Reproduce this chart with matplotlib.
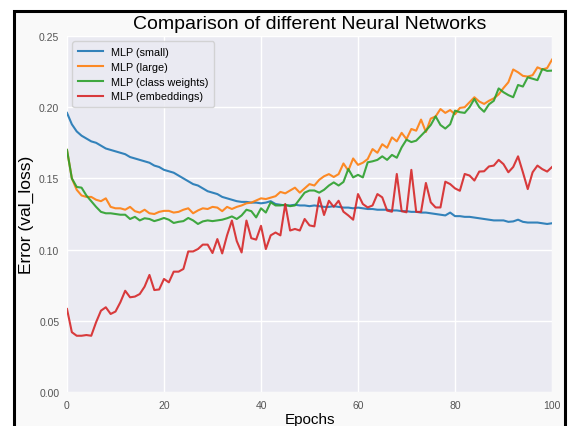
import matplotlib
matplotlib.use("Agg")
import matplotlib.pyplot as plt
from matplotlib.patches import Rectangle
import numpy as np

epochs = list(range(101))

mlp_small = [
    0.196, 0.188, 0.183, 0.180, 0.178, 0.176, 0.175, 0.173, 0.171, 0.170,
    0.169, 0.168, 0.167, 0.165, 0.164, 0.163, 0.162, 0.161, 0.159, 0.158,
    0.156, 0.155, 0.154, 0.152, 0.150, 0.148, 0.146, 0.145, 0.143, 0.141,
    0.140, 0.139, 0.137, 0.136, 0.135, 0.134, 0.1335, 0.1335, 0.133, 0.133,
    0.1325, 0.133, 0.134, 0.132, 0.1315, 0.131, 0.131, 0.1315, 0.131, 0.131,
    0.1305, 0.131, 0.1305, 0.130, 0.130, 0.1305, 0.130, 0.1295, 0.1295, 0.129,
    0.1295, 0.129, 0.1285, 0.1285, 0.128, 0.128, 0.128, 0.1275, 0.1275, 0.127,
    0.127, 0.1265, 0.1265, 0.126, 0.126, 0.1255, 0.125, 0.1245, 0.124, 0.126,
    0.1235, 0.1235, 0.123, 0.123, 0.1225, 0.122, 0.1215, 0.121, 0.1205, 0.1205,
    0.1205, 0.1195, 0.1198, 0.121, 0.1195, 0.119, 0.119, 0.119, 0.1185, 0.118,
    0.1185,
]

mlp_large = [
    0.170, 0.150, 0.142, 0.138, 0.137, 0.137, 0.135, 0.134, 0.136, 0.130,
    0.129, 0.129, 0.128, 0.130, 0.127, 0.126, 0.128, 0.1255, 0.125, 0.1265,
    0.1272, 0.1272, 0.126, 0.1265, 0.128, 0.129, 0.1255, 0.1275, 0.129, 0.1285,
    0.130, 0.1295, 0.127, 0.130, 0.1285, 0.130, 0.131, 0.1325, 0.133, 0.1345,
    0.136, 0.1355, 0.1365, 0.1375, 0.1405, 0.1395, 0.1415, 0.1435, 0.140, 0.143,
    0.146, 0.145, 0.149, 0.1515, 0.153, 0.151, 0.153, 0.1605, 0.1555, 0.164,
    0.1595, 0.161, 0.1636, 0.1706, 0.168, 0.174, 0.1715, 0.1788, 0.176, 0.182,
    0.1776, 0.1847, 0.1835, 0.1913, 0.1826, 0.192, 0.1935, 0.1987, 0.196, 0.198,
    0.195, 0.1995, 0.200, 0.2035, 0.207, 0.204, 0.2023, 0.2045, 0.2062, 0.209,
    0.2135, 0.2175, 0.2265, 0.2245, 0.222, 0.2215, 0.2225, 0.228, 0.2265, 0.2275,
    0.2334,
]

mlp_class_weights = [
    0.170, 0.150, 0.144, 0.1435, 0.138, 0.134, 0.130, 0.1265, 0.1255, 0.1255,
    0.125, 0.1245, 0.1245, 0.1215, 0.123, 0.1205, 0.122, 0.1215, 0.120, 0.121,
    0.1222, 0.121, 0.1187, 0.1195, 0.120, 0.1222, 0.1205, 0.118, 0.1198, 0.1205,
    0.120, 0.1205, 0.121, 0.122, 0.1233, 0.1215, 0.124, 0.128, 0.127, 0.1226,
    0.129, 0.126, 0.1332, 0.131, 0.131, 0.1315, 0.1305, 0.131, 0.1355, 0.140,
    0.1415, 0.1415, 0.140, 0.142, 0.145, 0.1472, 0.145, 0.1475, 0.1566, 0.1507,
    0.1525, 0.1507, 0.1613, 0.162, 0.163, 0.1655, 0.163, 0.1665, 0.1645, 0.1718,
    0.1772, 0.1755, 0.1765, 0.180, 0.1835, 0.1875, 0.1936, 0.1875, 0.185, 0.188,
    0.1976, 0.1965, 0.196, 0.200, 0.2058, 0.200, 0.1968, 0.202, 0.2045, 0.2132,
    0.2105, 0.2085, 0.207, 0.2156, 0.2145, 0.221, 0.220, 0.219, 0.2268, 0.2255,
    0.2257,
]

mlp_embeddings = [
    0.0583, 0.042, 0.0395, 0.0395, 0.040, 0.0395, 0.049, 0.0571, 0.0595, 0.0548,
    0.0565, 0.063, 0.0711, 0.0665, 0.067, 0.0688, 0.074, 0.0822, 0.0716, 0.072,
    0.0794, 0.077, 0.0845, 0.0845, 0.0864, 0.0987, 0.0987, 0.1004, 0.1035, 0.1035,
    0.0976, 0.1074, 0.0973, 0.110, 0.1204, 0.106, 0.098, 0.1204, 0.108, 0.107,
    0.1167, 0.1004, 0.110, 0.112, 0.110, 0.132, 0.1134, 0.1145, 0.1134, 0.1215,
    0.117, 0.1163, 0.1367, 0.1243, 0.1343, 0.130, 0.1343, 0.1266, 0.124, 0.121,
    0.139, 0.132, 0.1296, 0.131, 0.139, 0.1367, 0.1274, 0.1266, 0.1531, 0.127,
    0.1262, 0.156, 0.1265, 0.1265, 0.1468, 0.1332, 0.1296, 0.1296, 0.1477, 0.146,
    0.143, 0.1413, 0.1531, 0.152, 0.1485, 0.1548, 0.155, 0.1584, 0.159, 0.163,
    0.160, 0.1543, 0.158, 0.1655, 0.1543, 0.1425, 0.1543, 0.159, 0.1565, 0.1548,
    0.158,
]

series = [
    ("MLP (small)", mlp_small, "#1f77b4"),
    ("MLP (large)", mlp_large, "#ff7f0e"),
    ("MLP (class weights)", mlp_class_weights, "#2ca02c"),
    ("MLP (embeddings)", mlp_embeddings, "#d62728"),
]

plt.rcParams['font.family'] = ['Liberation Sans', 'DejaVu Sans']

fig = plt.figure(figsize=(5.69, 4.27), dpi=100, facecolor="white")

# screenshot frame around the figure
frame = Rectangle((14 / 569, -0.05), 551 / 569, 1.05 - 12 / 427,
                  transform=fig.transFigure, facecolor="#f9f9f9",
                  edgecolor="black", linewidth=2.2, zorder=-10)
fig.patches.append(frame)

ax = fig.add_axes([67 / 569, 34 / 427, 485 / 569, 356 / 427])
ax.set_facecolor("#EAEAF2")
for s in ax.spines.values():
    s.set_visible(False)
ax.grid(True, color="white", linewidth=1.0)
ax.set_axisbelow(True)

for name, vals, col in series:
    ax.plot(epochs, vals, color=col, linewidth=1.5, alpha=0.9, label=name)

ax.set_xlim(0, 100)
ax.set_ylim(0, 0.25)
ax.set_xticks(np.arange(0, 101, 20))
ax.set_yticks(np.arange(0, 0.251, 0.05))
ax.set_yticklabels([f"{v:.2f}" for v in np.arange(0, 0.251, 0.05)])
ax.tick_params(length=0, labelsize=7.5, labelcolor="#555555", pad=5.5)

ax.set_title("Comparison of different Neural Networks", fontsize=14, pad=6)
ax.set_xlabel("Epochs", fontsize=11, labelpad=2)
ax.set_ylabel("Error (val_loss)", fontsize=12.5, labelpad=4)

leg = ax.legend(loc="upper left", fontsize=7.8, handlelength=2.3, frameon=True,
                borderpad=0.5, labelspacing=0.45)
leg.get_frame().set_facecolor("#EAEAF2")
leg.get_frame().set_edgecolor("#cccccc")

fig.savefig("out.png", dpi=100)
